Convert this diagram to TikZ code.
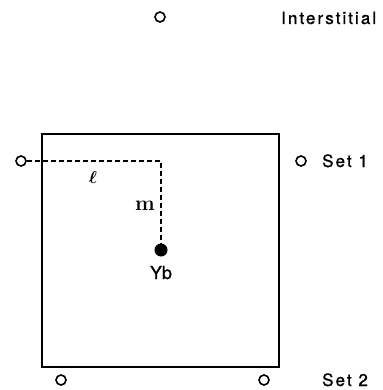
\documentclass[tikz,border=0pt]{standalone}
\usepackage{fontspec}
\usepackage{amsmath}
\newfontfamily\labfont{TeX Gyre Heros}[LetterSpace=12,FakeBold=1]
\newfontfamily\plainlab{TeX Gyre Heros}[FakeBold=1]
\begin{document}
\begin{tikzpicture}[x=1pt,y=-1pt,
  site/.style={circle,draw,line width=1.6pt,minimum size=10pt,inner sep=0pt},
  ybsite/.style={circle,fill,minimum size=13pt,inner sep=0pt},
  lab/.style={inner sep=0pt,font=\fontsize{17}{18}\selectfont\labfont},
  frame/.style={line width=1.3pt},
  dist/.style={line width=1.3pt,dash pattern=on 5pt off 3pt},
  sym/.style={inner sep=0pt}]
\useasboundingbox (0,0) rectangle (382,390);
% square
\coordinate (tl) at (42,134);
\coordinate (br) at (279,367);
\draw[frame] (tl) rectangle (br);
% sites
\node[site] (int) at (160,17) {};
\node[site] (s1l) at (21,161) {};
\node[site] (s1r) at (301,161) {};
\node[site] (s2l) at (61,380) {};
\node[site] (s2r) at (264,380) {};
\node[ybsite] (yb) at (161,250) {};
% distances
\draw[dist] (s1l.east) -| (yb.north);
\node[sym,font=\fontsize{18}{18}\selectfont] (ell) at (93,177) {$\boldsymbol{\ell}$};
\node[sym,font=\fontsize{21}{21}\selectfont\bfseries] (em) at (145,206) {m};
% labels
\node[lab,anchor=base west] (tint) at (281,24) {Interstitial};
\node[lab,anchor=base west] (tset1) at (322,167) {Set 1};
\node[lab,anchor=base west] (tset2) at (322,386) {Set 2};
\node[inner sep=0pt,anchor=base,font=\fontsize{18}{18}\selectfont\plainlab] (tyb) at (161,279) {Yb};
\end{tikzpicture}
\end{document}
